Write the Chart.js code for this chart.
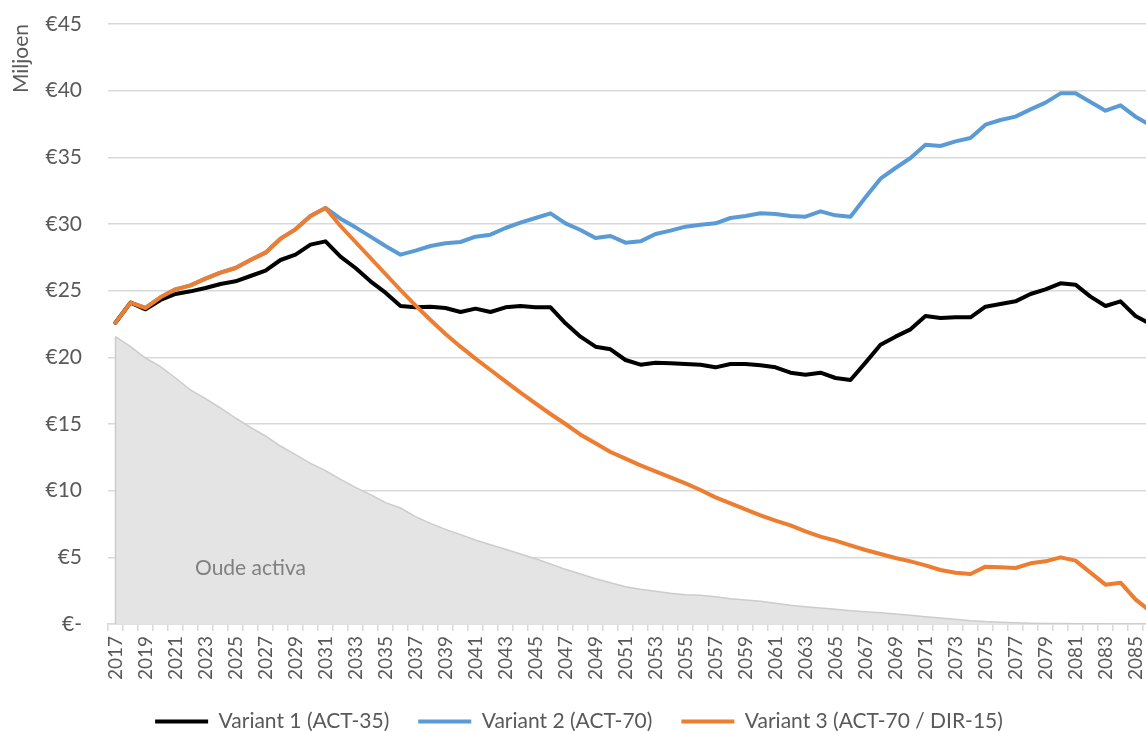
<!DOCTYPE html>
<html lang="nl">
<head>
<meta charset="utf-8">
<title>Varianten</title>
<script src="https://cdn.jsdelivr.net/npm/chart.js@4.4.1/dist/chart.umd.min.js"></script>
<style>
    html, body { margin: 0; padding: 0; background: #ffffff; overflow: hidden; }
    #wrap { width: 1158px; height: 731px; }
</style>
</head>
<body>
<div id="wrap"><canvas id="variantChart" width="1158" height="731"></canvas></div>
<script>
// Years on the category axis (2017 - 2086, the last one runs off the picture)
const years = [];
for (let y = 2017; y <= 2086; y++) years.push(String(y));

// Variant 1 (ACT-35), in miljoen euro
const variant1 = [
    22.6, 24.1, 23.6, 24.3, 24.75, 24.95, 25.2, 25.5, 25.7, 26.1,
    26.5, 27.3, 27.7, 28.45, 28.7, 27.55, 26.7, 25.7, 24.85, 23.85,
    23.75, 23.8, 23.7, 23.4, 23.65, 23.4, 23.75, 23.85, 23.75, 23.75,
    22.55, 21.55, 20.8, 20.6, 19.8, 19.45, 19.6, 19.55, 19.5, 19.45,
    19.25, 19.5, 19.5, 19.4, 19.25, 18.85, 18.7, 18.85, 18.45, 18.3,
    19.6, 20.95, 21.55, 22.1, 23.1, 22.95, 23.0, 23.0, 23.8, 24.0,
    24.2, 24.75, 25.1, 25.55, 25.45, 24.55, 23.85, 24.2, 23.1, 22.5
];

// Variant 2 (ACT-70)
const variant2 = [
    22.6, 24.1, 23.7, 24.5, 25.1, 25.4, 25.9, 26.35, 26.7, 27.3,
    27.85, 28.9, 29.6, 30.6, 31.2, 30.4, 29.75, 29.05, 28.35, 27.7,
    28.0, 28.35, 28.55, 28.65, 29.05, 29.2, 29.7, 30.1, 30.45, 30.8,
    30.05, 29.55, 28.95, 29.1, 28.6, 28.7, 29.25, 29.5, 29.8, 29.95,
    30.05, 30.45, 30.6, 30.8, 30.75, 30.6, 30.55, 30.95, 30.65, 30.55,
    32.0, 33.4, 34.2, 34.95, 35.95, 35.85, 36.2, 36.45, 37.45, 37.8,
    38.05, 38.6, 39.1, 39.8, 39.8, 39.15, 38.5, 38.9, 38.05, 37.4
];

// Variant 3 (ACT-70 / DIR-15)
const variant3 = [
    22.6, 24.1, 23.7, 24.5, 25.1, 25.4, 25.9, 26.35, 26.7, 27.3,
    27.85, 28.9, 29.6, 30.6, 31.2, 29.85, 28.65, 27.45, 26.25, 25.05,
    23.9, 22.8, 21.75, 20.8, 19.9, 19.05, 18.2, 17.35, 16.55, 15.75,
    15.0, 14.2, 13.55, 12.9, 12.4, 11.9, 11.45, 11.0, 10.55, 10.05,
    9.5, 9.05, 8.6, 8.15, 7.75, 7.4, 6.95, 6.55, 6.25, 5.9,
    5.55, 5.25, 4.95, 4.7, 4.4, 4.05, 3.85, 3.75, 4.3, 4.25,
    4.2, 4.55, 4.7, 5.0, 4.75, 3.85, 2.95, 3.1, 1.85, 0.95
];

// Oude activa (grey area)
const oudeActiva = [
    21.55, 20.8, 19.95, 19.3, 18.45, 17.55, 16.9, 16.2, 15.45, 14.75,
    14.1, 13.35, 12.7, 12.05, 11.5, 10.85, 10.25, 9.7, 9.1, 8.7,
    8.05, 7.55, 7.1, 6.7, 6.3, 5.95, 5.6, 5.25, 4.9, 4.5,
    4.1, 3.75, 3.4, 3.1, 2.8, 2.6, 2.45, 2.3, 2.2, 2.15,
    2.05, 1.9, 1.8, 1.7, 1.55, 1.4, 1.3, 1.2, 1.1, 1.0,
    0.92, 0.85, 0.75, 0.65, 0.55, 0.45, 0.35, 0.25, 0.18, 0.14,
    0.1, 0.06, 0.04, 0.03, 0.02, 0.01, 0, 0, 0, 0
];

// Where the area label sits, in data terms
const areaLabel = { text: 'Oude activa', year: '2026', value: 4.2 };

const FONT = 'Lato, "Open Sans", sans-serif';
const TEXT_GREY = '#595959';
const GRID_GREY = '#d9d9d9';

/**
 * Draws the left edge of the grey area and its label, just after the area itself
 */
const areaExtras = {
    id: 'areaExtras',
    afterDatasetDraw(chart, args) {
        if (args.index !== 3) return;
        const ctx = chart.ctx;
        const x = chart.scales.x;
        const y = chart.scales.y;
        const first = args.meta.data[0];

        ctx.save();
        ctx.strokeStyle = '#cccccc';
        ctx.lineWidth = 1.5;
        ctx.beginPath();
        ctx.moveTo(first.x, first.y);
        ctx.lineTo(first.x, y.getPixelForValue(0));
        ctx.stroke();

        ctx.fillStyle = '#808080';
        ctx.font = '21px ' + FONT;
        ctx.textAlign = 'center';
        ctx.textBaseline = 'middle';
        ctx.fillText(areaLabel.text, x.getPixelForValue(years.indexOf(areaLabel.year)), y.getPixelForValue(areaLabel.value));
        ctx.restore();
    }
};

function lineSet(label, data, color, order) {
    return {
        label: label,
        data: data,
        borderColor: color,
        backgroundColor: color,
        borderWidth: 4,
        pointRadius: 0,
        tension: 0,
        fill: false,
        order: order,
        borderJoinStyle: 'round',
        borderCapStyle: 'round'
    };
}

document.addEventListener('DOMContentLoaded', function() {
    const ctx = document.getElementById('variantChart').getContext('2d');
    new Chart(ctx, {
        type: 'line',
        data: {
            labels: years,
            datasets: [
                lineSet('Variant 1 (ACT-35)', variant1, '#000000', 1),
                lineSet('Variant 2 (ACT-70)', variant2, '#5b9bd5', 2),
                // orange gets the lowest order so it is drawn on top
                lineSet('Variant 3 (ACT-70 / DIR-15)', variant3, '#ed7d31', 0),
                {
                    label: 'Oude activa',
                    data: oudeActiva,
                    borderColor: '#cccccc',
                    backgroundColor: '#e4e4e4',
                    borderWidth: 1.5,
                    pointRadius: 0,
                    tension: 0,
                    fill: 'origin',
                    order: 10
                }
            ]
        },
        options: {
            responsive: false,
            animation: false,
            devicePixelRatio: 1,
            layout: { padding: { top: 24, left: 0, right: 0, bottom: 0 } },
            plugins: {
                tooltip: { enabled: false },
                legend: {
                    position: 'bottom',
                    maxHeight: 49,
                    labels: {
                        filter: item => item.datasetIndex !== 3,
                        sort: (a, b) => a.datasetIndex - b.datasetIndex,
                        usePointStyle: true,
                        pointStyle: 'line',
                        pointStyleWidth: 53,
                        padding: 29,
                        color: TEXT_GREY,
                        font: { family: FONT, size: 21 }
                    }
                }
            },
            scales: {
                x: {
                    offset: true,
                    afterFit: function(scale) {
                        // the plot runs off the right edge, so no extra room for labels
                        scale.height = 58;
                        scale.paddingLeft = 0;
                        scale.paddingRight = 0;
                    },
                    grid: {
                        offset: true,
                        drawOnChartArea: false,
                        drawTicks: true,
                        tickLength: 7,
                        color: GRID_GREY,
                        lineWidth: 1.5
                    },
                    border: { display: true, color: GRID_GREY, width: 1.5 },
                    ticks: {
                        autoSkip: false,
                        maxRotation: 90,
                        minRotation: 90,
                        padding: 5,
                        color: TEXT_GREY,
                        font: { family: FONT, size: 19 },
                        callback: function(value, index) {
                            return index % 2 === 0 ? years[index] : '';
                        }
                    }
                },
                y: {
                    min: 0,
                    max: 45,
                    afterFit: function(scale) {
                        scale.width = 108;
                        scale.paddingTop = 0;
                        scale.paddingBottom = 0;
                    },
                    grid: { color: GRID_GREY, lineWidth: 1.5, drawTicks: false },
                    border: { display: false },
                    ticks: {
                        stepSize: 5,
                        padding: 26,
                        color: TEXT_GREY,
                        font: { family: FONT, size: 21 },
                        callback: function(value) {
                            return value === 0 ? '€-' : '€' + value;
                        }
                    },
                    title: {
                        display: true,
                        text: 'Miljoen',
                        align: 'end',
                        color: TEXT_GREY,
                        font: { family: FONT, size: 21 },
                        padding: { top: 9, bottom: 0 }
                    }
                }
            }
        },
        plugins: [areaExtras]
    });
});
</script>
</body>
</html>
